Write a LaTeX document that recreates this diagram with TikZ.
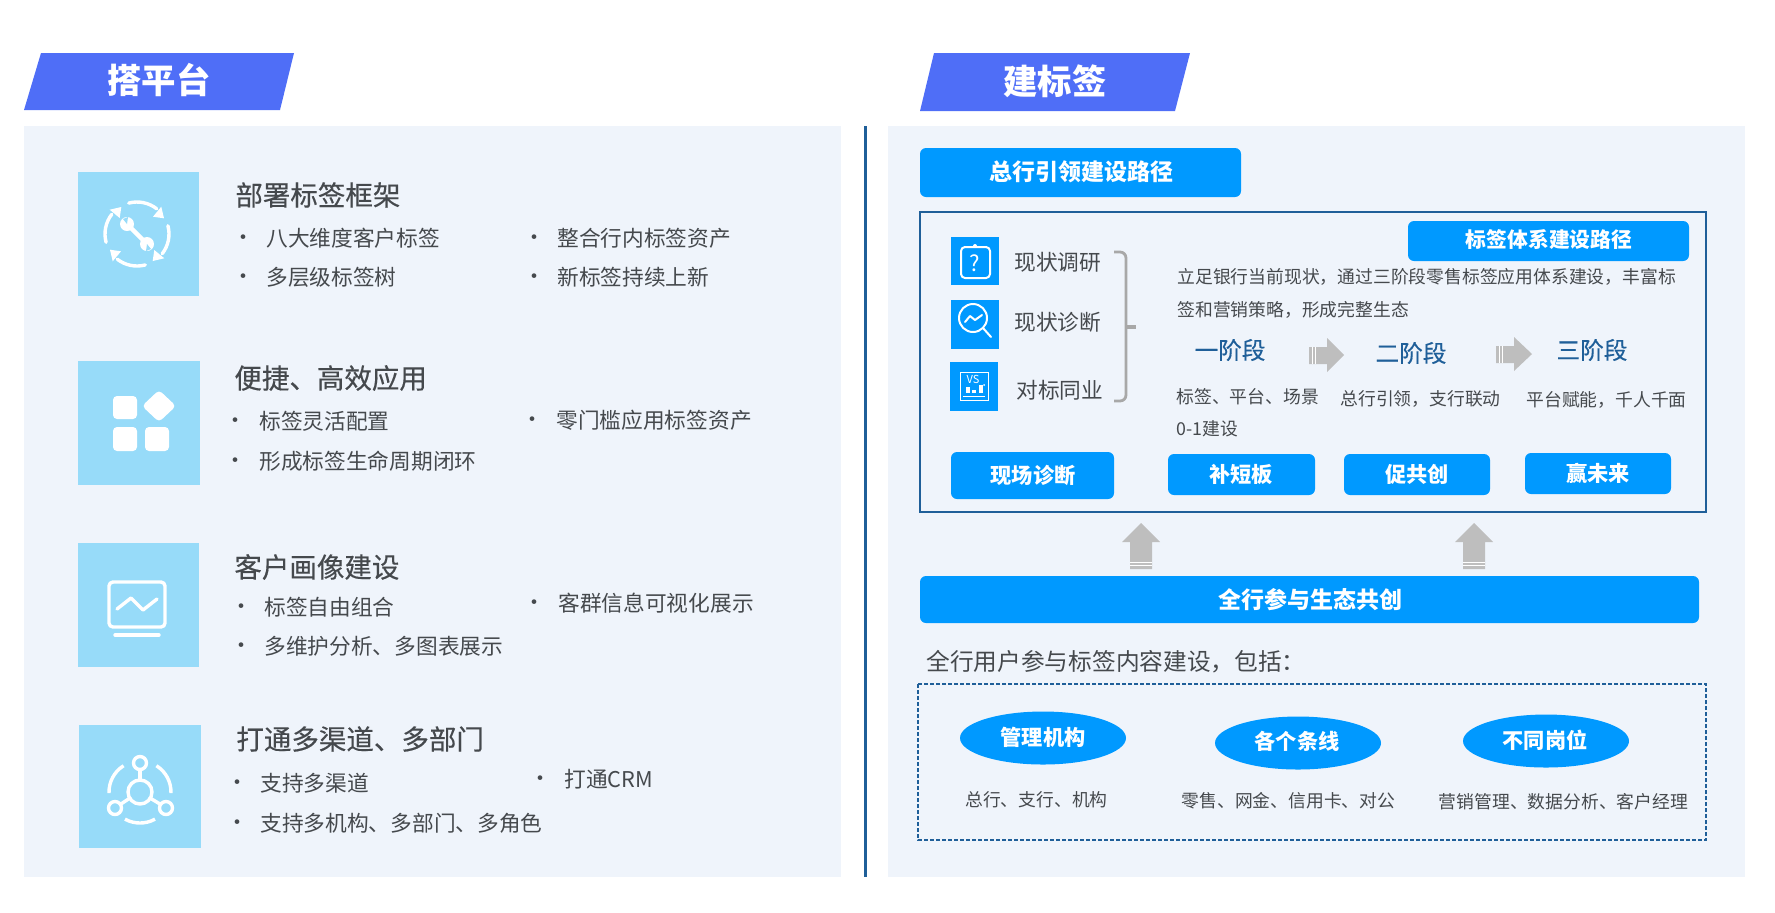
\documentclass[tikz,border=0pt]{standalone}
\usepackage{fontspec}
\setmainfont{Noto Sans CJK SC}
\newfontfamily\heavyfont[FakeBold=0.35]{Noto Sans CJK SC}
\usetikzlibrary{shapes.geometric}

\definecolor{panelbg}{HTML}{EFF4FB}
\definecolor{titleblue}{HTML}{4F6EF7}
\definecolor{btnblue}{HTML}{0099FF}
\definecolor{iconblue}{HTML}{97DBF9}
\definecolor{linkblue}{HTML}{1F5F99}
\definecolor{arrowgray}{HTML}{BEBEBE}
\definecolor{bracegray}{HTML}{A8A8A8}
\definecolor{textgray}{HTML}{45494D}

\tikzset{
  headtext/.style={anchor=west, inner sep=0pt, text=textgray, font=\fontsize{13.75}{16}\selectfont\heavyfont},
  itemtext/.style={anchor=west, inner sep=0pt, text=textgray, font=\fontsize{10.85}{13}\selectfont},
  smalltext/.style={inner sep=0pt, text=textgray, font=\fontsize{8.9}{11}\selectfont},
  bulletdot/.style={inner sep=0pt, yshift=-1.3pt, text=textgray, font=\fontsize{11}{12}\selectfont},
  titletext/.style={inner sep=0pt, text=white, font=\fontsize{17.2}{20}\selectfont\bfseries},
  btntext/.style={inner sep=0pt, text=white, font=\fontsize{10.6}{13}\selectfont\bfseries},
  stagetext/.style={inner sep=0pt, text=linkblue, font=\fontsize{11.8}{14}\selectfont\heavyfont},
  iconline/.style={draw=white, line width=1.7pt, line cap=round, line join=round},
  thinline/.style={draw=white, line width=1pt, line cap=round, line join=round},
  tagellipse/.style={ellipse, fill=btnblue, minimum width=83pt, minimum height=26.5pt, inner sep=0pt},
}

\begin{document}
\begin{tikzpicture}[x=0.5pt, y=-0.5pt]
\useasboundingbox (0,0) rectangle (1775,912);

% titoli
\fill[titleblue] (41,53) -- (294,53) -- (280,110) -- (24,110) -- cycle;
\node[titletext] (titleA) at (159,80) {搭平台};
\fill[titleblue] (934,53) -- (1190,53) -- (1175,111) -- (920,111) -- cycle;
\node[titletext] (titleB) at (1055,81) {建标签};

% pannelli
\fill[panelbg] (24,126) rectangle (841,877);
\fill[panelbg] (888,126) rectangle (1745,877);
\draw[linkblue, line width=1.5pt] (865,126) -- (865,877);

% riquadri icone a sinistra
\fill[iconblue] (78,172) rectangle (199,296);
\fill[iconblue] (78,361) rectangle (200,485);
\fill[iconblue] (78,543) rectangle (199,667);
\fill[iconblue] (79,725) rectangle (201,848);

% icona 1: frecce e chiave
\foreach \a in {0,-90,-180,-270}{
  \begin{scope}[shift={(137,234)}, rotate=\a]
    \draw[iconline] (-105:32) arc (-105:-52:32);
    \fill[white] (27,-15.7) -- (16,-17.3) -- (24.3,-27.3) -- cycle;
  \end{scope}
}
\draw[white, line width=2.2pt] (128,225) -- (146,243);
\fill[white] (127,224) circle (7);
\fill[white] (147,244) circle (7);
\fill[iconblue] (123,219) -- (128,217) -- (127,224) -- cycle;
\fill[iconblue] (151,249) -- (146,251) -- (147,244) -- cycle;

% icona 2: quadrati
\fill[white, rounded corners=2pt] (113,396) rectangle (137,419);
\fill[white, rounded corners=2pt] (113,427) rectangle (137,451);
\fill[white, rounded corners=2pt] (145,427) rectangle (169,451);
\fill[white, rounded corners=2pt] (159,390) -- (176,406) -- (159,422) -- (142,406) -- cycle;

% icona 3: monitor
\draw[iconline, rounded corners=2pt] (109,582) rectangle (165,627);
\draw[iconline] (117,609) -- (131,598) -- (143,610) -- (157,599);
\draw[iconline] (115,635) -- (159,635);

% icona 4: rete
\draw[iconline] (140,792) circle (12);
\draw[iconline] (140,763) circle (6.5);
\draw[iconline] (115,808) circle (6.5);
\draw[iconline] (166,808) circle (6.5);
\draw[iconline] (140,770) -- (140,780);
\draw[iconline] (121,804) -- (130,798);
\draw[iconline] (160,804) -- (150,798);
\draw[white, line width=1.7pt] (140,792) ++(178:31) arc (178:238:31);
\draw[white, line width=1.7pt] (140,792) ++(-58:31) arc (-58:2:31);
\draw[white, line width=1.7pt] (140,792) ++(61:31) arc (61:119:31);

% testi a sinistra
\node[headtext] (headA) at (235,195) {部署标签框架};
\node[headtext] (headB) at (234,378) {便捷、高效应用};
\node[headtext] (headC) at (234,567) {客户画像建设};
\node[headtext] (headD) at (236,739) {打通多渠道、多部门};

\foreach \dx/\tx/\ty/\txt [count=\n] in {
  243/266/238/八大维度客户标签, 243/266/277/多层级标签树,
  534/557/238/整合行内标签资产, 534/557/277/新标签持续上新,
  235/259/421/标签灵活配置, 235/259/461/形成标签生命周期闭环,
  532/556/420/零门槛应用标签资产,
  241/264/607/标签自由组合, 241/264/646/多维护分析、多图表展示,
  534/558/603/客群信息可视化展示,
  237/260/783/支持多渠道, 237/260/823/支持多机构、多部门、多角色,
  540/564/779/打通CRM}{
  \node[bulletdot] (dot\n) at (\dx,\ty) {•};
  \node[itemtext] (item\n) at (\tx,\ty) {\txt};
}

% pulsante e riquadro in alto a destra
\fill[btnblue, rounded corners=3pt] (920,148) rectangle (1241,197);
\node[btntext, font=\fontsize{11.5}{14}\selectfont\bfseries] (leadT) at (1081,171.5) {总行引领建设路径};
\draw[linkblue, line width=1pt] (920,212) rectangle (1706,512);
\fill[btnblue, rounded corners=3pt] (1408,221) rectangle (1689,261);
\node[btntext, font=\fontsize{10.4}{13}\selectfont\bfseries] (pathT) at (1549,239.5) {标签体系建设路径};

% icone piccole
\fill[btnblue] (951,237) rectangle (999,285);
\draw[thinline, rounded corners=2pt] (961,247) rectangle (990,278);
\fill[white] (975,246) circle (2);
\node[inner sep=0pt, text=white, font=\fontsize{11}{12}\selectfont] (askT) at (975,263) {?};

\fill[btnblue] (951,300) rectangle (999,349);
\draw[thinline] (973,318) circle (14);
\draw[thinline] (983,328) -- (991,337);
\draw[thinline] (965,322) -- (970,316) -- (975,320) -- (982,315);

\fill[btnblue] (950,362) rectangle (998,411);
\draw[white, line width=.5pt] (960,372) rectangle (988,400);
\node[inner sep=0pt, text=white, font=\fontsize{5.5}{6}\selectfont] (vsT) at (973,379) {VS};
\fill[white] (966,387) rectangle (970,393);
\fill[white] (972,390) rectangle (976,393);
\fill[white] (979,385) rectangle (983,393);
\fill[white] (984,385) circle (1);
\draw[white, line width=.5pt] (963,396) -- (985,396);

% etichette e parentesi
\node[itemtext] (surveyT) at (1014,262) {现状调研};
\node[itemtext] (diagT) at (1014,322) {现状诊断};
\node[itemtext] (peerT) at (1016,390) {对标同业};
\draw[bracegray, line width=1.4pt, rounded corners=3pt] (1114,252) -- (1126,252) -- (1126,401) -- (1114,401);
\draw[bracegray, line width=1.7pt] (1126,327) -- (1136,327);

% testo e fasi
\node[smalltext, anchor=west] (introA) at (1177,277) {立足银行当前现状，通过三阶段零售标签应用体系建设，丰富标};
\node[smalltext, anchor=west] (introB) at (1177,310) {签和营销策略，形成完整生态};

\node[stagetext] (stageA) at (1230,350) {一阶段};
\node[stagetext] (stageB) at (1411,353) {二阶段};
\node[stagetext] (stageC) at (1592,350) {三阶段};

% frecce grigie
\fill[arrowgray] (1309,347) -- (1327,347) -- (1327,338) -- (1344,355) -- (1327,372) -- (1327,364) -- (1309,364) -- cycle;
\fill[arrowgray] (1496,346) -- (1514,346) -- (1514,337) -- (1532,354) -- (1514,371) -- (1514,363) -- (1496,363) -- cycle;
\draw[white, line width=.4pt] (1312,347) -- (1312,364) (1315,347) -- (1315,364);
\draw[white, line width=.4pt] (1499,346) -- (1499,363) (1502,346) -- (1502,363);

\node[smalltext, anchor=west] (subA) at (1176,397) {标签、平台、场景};
\node[smalltext, anchor=west] (subAb) at (1176,429) {0-1建设};
\node[smalltext, anchor=west] (subB) at (1340,399) {总行引领，支行联动};
\node[smalltext, anchor=west] (subC) at (1526,400) {平台赋能，千人千面};

% pulsanti
\fill[btnblue, rounded corners=3pt] (951,452) rectangle (1114,499);
\node[btntext] (siteT) at (1033,475) {现场诊断};
\fill[btnblue, rounded corners=3pt] (1168,454) rectangle (1315,495);
\node[btntext] (fixT) at (1241,474) {补短板};
\fill[btnblue, rounded corners=3pt] (1344,454) rectangle (1490,495);
\node[btntext] (jointT) at (1417,474) {促共创};
\fill[btnblue, rounded corners=3pt] (1525,453) rectangle (1671,494);
\node[btntext] (winT) at (1598,473) {赢未来};

% frecce in su
\foreach \ax in {1141,1474}{
  \fill[arrowgray] (\ax,523) -- ({\ax+19},542) -- ({\ax+11},542) -- ({\ax+11},569) -- ({\ax-11},569) -- ({\ax-11},542) -- ({\ax-19},542) -- cycle;
  \draw[white, line width=.4pt] ({\ax-11},562) -- ({\ax+11},562) ({\ax-11},565.5) -- ({\ax+11},565.5);
}

% fascia e area tratteggiata
\fill[btnblue, rounded corners=3pt] (920,576) rectangle (1699,623);
\node[btntext, font=\fontsize{11.5}{14}\selectfont\bfseries] (bandT) at (1310,599.5) {全行参与生态共创};
\node[itemtext, font=\fontsize{11.85}{14}\selectfont] (usersT) at (926,662) {全行用户参与标签内容建设，包括：};
\draw[linkblue, line width=.75pt, dash pattern=on 2pt off 1pt] (918,684) rectangle (1706,840);

\node[tagellipse] (orgE) at (1043,738) {};
\node[btntext] (orgT) at (1043,737) {管理机构};
\node[tagellipse] (lineE) at (1298,743) {};
\node[btntext] (lineT) at (1297,741) {各个条线};
\node[tagellipse] (postE) at (1546,741) {};
\node[btntext] (postT) at (1545,740) {不同岗位};

\node[smalltext] (orgS) at (1036.5,800) {总行、支行、机构};
\node[smalltext] (lineS) at (1288.5,801) {零售、网金、信用卡、对公};
\node[smalltext] (postS) at (1563.5,802) {营销管理、数据分析、客户经理};

\end{tikzpicture}
\end{document}
